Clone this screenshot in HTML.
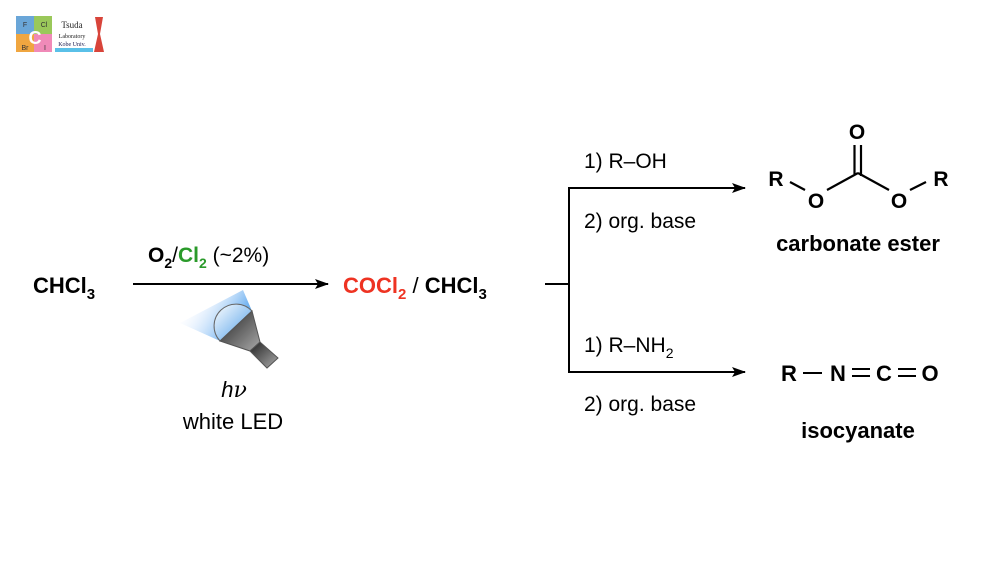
<!DOCTYPE html>
<html><head><meta charset="utf-8"><style>
html,body{margin:0;padding:0;background:#fff;}
svg{display:block;}
text{font-family:"Liberation Sans",Arial,sans-serif;}
</style></head><body>
<svg width="1001" height="563" viewBox="0 0 1001 563" xmlns="http://www.w3.org/2000/svg">
<defs>
<marker id="ah" markerWidth="14" markerHeight="10" refX="13" refY="5" orient="auto" markerUnits="userSpaceOnUse">
<path d="M0,0 L14,5 L0,10 L3,5 Z" fill="#000"/></marker>
<linearGradient id="beam" gradientUnits="userSpaceOnUse" x1="236" y1="326" x2="196" y2="300">
<stop offset="0" stop-color="#5aa6ee" stop-opacity="0.9"/><stop offset="1" stop-color="#dceaff" stop-opacity="0.1"/></linearGradient>
<linearGradient id="body" x1="0" y1="0" x2="1" y2="1">
<stop offset="0" stop-color="#222"/><stop offset="1" stop-color="#aaa"/></linearGradient>
<linearGradient id="lens" x1="0" y1="0" x2="1" y2="1">
<stop offset="0" stop-color="#fff"/><stop offset="1" stop-color="#4a9be8"/></linearGradient>
</defs>
<!-- logo -->
<rect x="16" y="16" width="18" height="18" fill="#6aa6d8"/>
<rect x="34" y="16" width="18" height="18" fill="#9ac85a"/>
<rect x="16" y="34" width="18" height="18" fill="#f0a640"/>
<rect x="34" y="34" width="18" height="18" fill="#f08ab8"/>
<text x="25" y="27" font-size="7" text-anchor="middle" fill="#333">F</text>
<text x="44" y="27" font-size="7" text-anchor="middle" fill="#333">Cl</text>
<text x="25" y="50" font-size="7" text-anchor="middle" fill="#333">Br</text>
<text x="45" y="50" font-size="7" text-anchor="middle" fill="#333">I</text>
<text x="35" y="44" font-size="18" font-weight="bold" text-anchor="middle" fill="#fff">C</text>
<text x="72" y="28" font-size="9" text-anchor="middle" fill="#222" style="font-family:'Liberation Serif',serif">Tsuda</text>
<text x="72" y="38" font-size="6" text-anchor="middle" fill="#222" style="font-family:'Liberation Serif',serif">Laboratory</text>
<text x="72" y="46" font-size="6" text-anchor="middle" fill="#225" style="font-family:'Liberation Serif',serif">Kobe Univ.</text>
<rect x="55" y="48" width="38" height="4" fill="#5ac0e8"/>
<path d="M95,17 L103,17 L100,34 L104,52 L94,52 L98,34 Z" fill="#d8443a"/>

<!-- left -->
<text x="33" y="293" font-size="22" font-weight="bold">CHCl<tspan font-size="15" dy="6">3</tspan></text>
<line x1="133" y1="284" x2="328" y2="284" stroke="#000" stroke-width="2" marker-end="url(#ah)"/>
<text x="148" y="262" font-size="21"><tspan font-weight="bold">O</tspan><tspan font-weight="bold" font-size="14" dy="6">2</tspan><tspan dy="-6">/</tspan><tspan font-weight="bold" fill="#2a9a2a">Cl</tspan><tspan font-weight="bold" fill="#2a9a2a" font-size="14" dy="6">2</tspan><tspan dy="-6"> (~2%)</tspan></text>
<!-- lamp -->
<path d="M252,311 L243,290 L180,323 L220,341 Z" fill="url(#beam)"/>
<path d="M252,311 A18,18 0 0 0 220,341 Z" fill="url(#lens)" stroke="#666" stroke-width="1"/>
<path d="M252,311 L220,341 L250,351 L260,342 Z" fill="url(#body)" stroke="#555" stroke-width="1"/>
<path d="M250,351 L260,342 L278,358 L267,368 Z" fill="url(#body)" stroke="#555" stroke-width="1"/>
<text x="234" y="397" font-size="22" font-style="italic" text-anchor="middle">h<tspan style="font-family:'DejaVu Serif',serif">ν</tspan></text>
<text x="233" y="429" font-size="22" text-anchor="middle">white LED</text>

<!-- middle -->
<text x="343" y="293" font-size="22" font-weight="bold"><tspan fill="#ee3322">COCl</tspan><tspan fill="#ee3322" font-size="15" dy="6">2</tspan><tspan dy="-6" font-weight="normal"> / </tspan>CHCl<tspan font-size="15" dy="6">3</tspan></text>

<!-- branches -->
<path d="M545,284 L569,284 M569,187 L569,373" stroke="#000" stroke-width="2" fill="none"/>
<line x1="568" y1="188" x2="745" y2="188" stroke="#000" stroke-width="2" marker-end="url(#ah)"/>
<line x1="568" y1="372" x2="745" y2="372" stroke="#000" stroke-width="2" marker-end="url(#ah)"/>
<text x="584" y="168" font-size="21">1) R–OH</text>
<text x="584" y="228" font-size="21">2) org. base</text>
<text x="584" y="352" font-size="21">1) R–NH<tspan font-size="14" dy="6">2</tspan></text>
<text x="584" y="411" font-size="21">2) org. base</text>

<!-- carbonate -->
<g font-size="21" font-weight="bold" text-anchor="middle">
<text x="776" y="186">R</text>
<text x="816" y="208">O</text>
<text x="857" y="139">O</text>
<text x="899" y="208">O</text>
<text x="941" y="186">R</text>
</g>
<g stroke="#000" stroke-width="2.2" fill="none">
<line x1="790" y1="182" x2="805" y2="190"/>
<line x1="827" y1="190" x2="858" y2="173"/>
<line x1="858" y1="173" x2="889" y2="190"/>
<line x1="910" y1="190" x2="926" y2="182"/>
<line x1="854.5" y1="145" x2="854.5" y2="174"/>
<line x1="861" y1="145" x2="861" y2="176"/>
</g>
<text x="858" y="251" font-size="22" font-weight="bold" text-anchor="middle">carbonate ester</text>

<!-- isocyanate -->
<g font-size="22" font-weight="bold" text-anchor="middle">
<text x="789" y="381">R</text>
<text x="838" y="381">N</text>
<text x="884" y="381">C</text>
<text x="930" y="381">O</text>
</g>
<g stroke="#000" stroke-width="2">
<line x1="803" y1="373" x2="822" y2="373"/>
<line x1="852" y1="369" x2="870" y2="369"/>
<line x1="852" y1="376" x2="870" y2="376"/>
<line x1="898" y1="369" x2="916" y2="369"/>
<line x1="898" y1="376" x2="916" y2="376"/>
</g>
<text x="858" y="438" font-size="22" font-weight="bold" text-anchor="middle">isocyanate</text>
</svg>
</body></html>
